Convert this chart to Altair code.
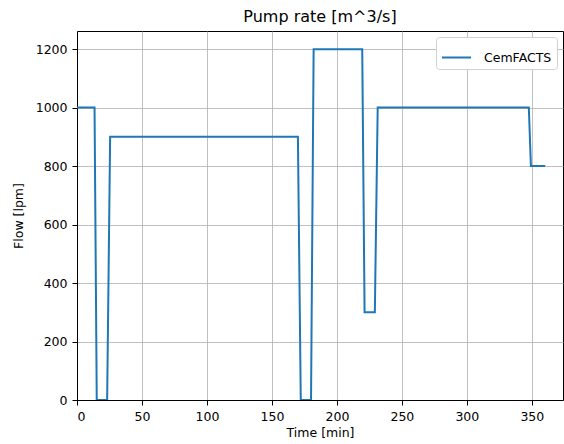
import altair as alt
import pandas as pd

time_min = [0, 13.5, 15.2, 23.2, 25.5, 170.0, 172.2, 180.1, 182.1, 219.5, 221.3, 229.2, 231.4, 347.7, 349.3, 360.3]
flow_lpm = [1000, 1000, 0, 0, 900, 900, 0, 0, 1200, 1200, 300, 300, 1000, 1000, 800, 800]
series = ["CemFACTS"] * len(time_min)

df = pd.DataFrame({"t": time_min, "q": flow_lpm, "s": series, "i": list(range(len(time_min)))})

font = "DejaVu Sans"

chart = alt.Chart(df).mark_line(strokeWidth=2, clip=True).encode(
    x=alt.X("t:Q", title="Time [min]",
            scale=alt.Scale(domain=[0, 374], nice=False, zero=False),
            axis=alt.Axis(values=[0, 50, 100, 150, 200, 250, 300, 350], format="d")),
    y=alt.Y("q:Q", title="Flow [lpm]",
            scale=alt.Scale(domain=[0, 1262], nice=False),
            axis=alt.Axis(values=[0, 200, 400, 600, 800, 1000, 1200], format="d")),
    color=alt.Color("s:N", scale=alt.Scale(range=["#1f77b4"]),
                    legend=alt.Legend(title=None, orient="top-right", offset=6,
                                      symbolType="stroke", symbolStrokeWidth=2, symbolSize=841,
                                      strokeColor="#d0d0d0", fillColor="white", padding=5,
                                      cornerRadius=3, labelFontSize=12.5, labelFont=font,
                                      labelColor="black", labelOffset=12)),
    order="i:Q",
).properties(
    width=486, height=369,
    title=alt.TitleParams("Pump rate [m^3/s]", fontSize=16, font=font, fontWeight="normal",
                          color="black", offset=6),
    autosize=alt.AutoSizeParams(type="none"),
    padding={"left": 77, "top": 31, "right": 1, "bottom": 44},
).configure_view(
    stroke="black", strokeWidth=1
).configure_axis(
    grid=True, gridColor="#b0b0b0", gridWidth=0.8,
    domainColor="black", tickColor="black", tickSize=5,
    labelFont=font, labelFontSize=12.5, labelColor="black",
    titleFont=font, titleFontSize=12.5, titleFontWeight="normal", titleColor="black",
    labelPadding=5,
).configure_axisX(titlePadding=4).configure_axisY(titlePadding=10)

chart.save("out.html", embed_options={"renderer": "svg", "actions": False})
